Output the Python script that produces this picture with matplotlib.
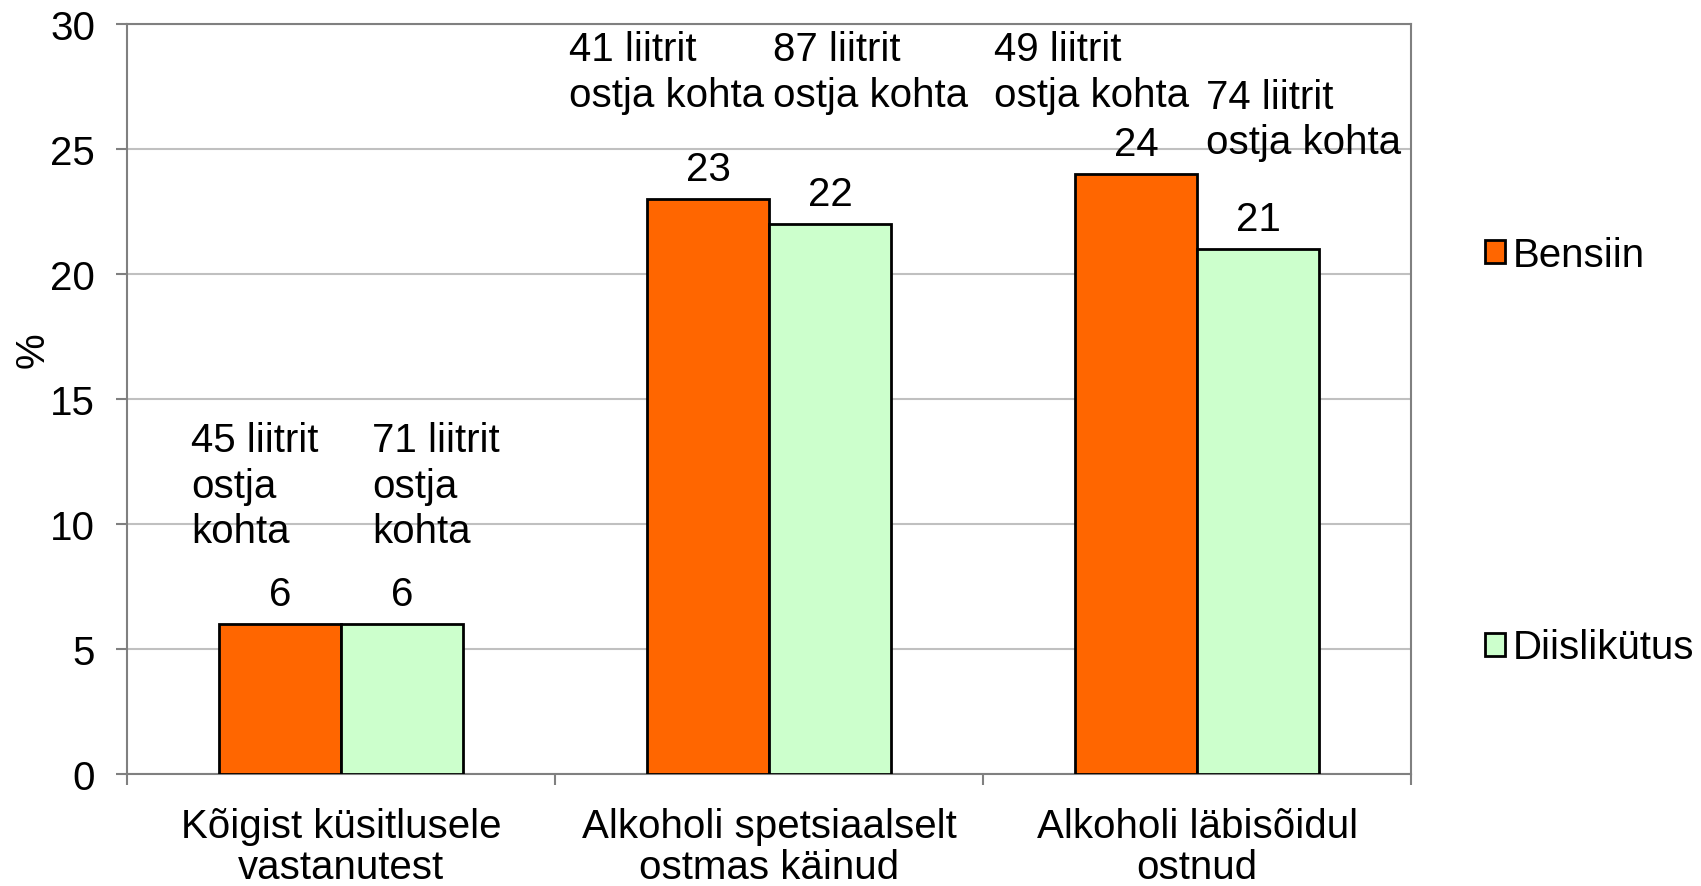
import matplotlib.pyplot as plt
from matplotlib.patches import Patch
import numpy as np

plt.rcParams['font.family'] = ['Liberation Sans', 'DejaVu Sans']

kategooriad = ['Kõigist küsitlusele\nvastanutest',
               'Alkoholi spetsiaalselt\nostmas käinud',
               'Alkoholi läbisõidul\nostnud']
bensiin = [6, 23, 24]
diisel = [6, 22, 21]
bensiin_liitrid = ['45 liitrit\nostja\nkohta', '41 liitrit\nostja kohta', '49 liitrit\nostja kohta']
diisel_liitrid = ['71 liitrit\nostja\nkohta', '87 liitrit\nostja kohta', '74 liitrit\nostja kohta']
y_ticks = [0, 5, 10, 15, 20, 25, 30]

# kus liitrite tekstid asuvad (x vasak serv, y ülemine serv, andmeühikutes)
bensiin_tekst_xy = [(-0.35, 14.1), (0.533, 29.75), (1.525, 29.75)]
diisel_tekst_xy = [(0.073, 14.1), (1.01, 29.75), (2.02, 27.85)]

oranz = '#FF6600'
roheline = '#CCFFCC'
hall = '#808080'
fs = 29

fig = plt.figure(figsize=(17.01, 8.87), dpi=100)
ax = fig.add_axes([0.0747, 0.1263, 0.8296 - 0.0747, 0.9718 - 0.1263])

x = np.arange(len(kategooriad))
laius = 0.2857
b1 = ax.bar(x - laius / 2, bensiin, laius, color=oranz, edgecolor='black', linewidth=2, zorder=3)
b2 = ax.bar(x + laius / 2, diisel, laius, color=roheline, edgecolor='black', linewidth=2, zorder=3)

# väärtused tulpade kohal
for tulbad, vaartused in ((b1, bensiin), (b2, diisel)):
    for t, v in zip(tulbad, vaartused):
        ax.annotate(str(v), (t.get_x() + t.get_width() / 2, v), xytext=(0, 14),
                    textcoords='offset points', ha='center', va='baseline', fontsize=fs)

# liitrid ostja kohta
for tekstid, kohad in ((bensiin_liitrid, bensiin_tekst_xy), (diisel_liitrid, diisel_tekst_xy)):
    for s, (tx, ty) in zip(tekstid, kohad):
        ax.text(tx, ty, s, ha='left', va='top', fontsize=fs, linespacing=1.25)

ax.set_xlim(-0.5, 2.5)
ax.set_ylim(0, 30)
ax.set_yticks(y_ticks)
ax.tick_params(axis='y', labelsize=fs, length=8, width=1.5, color=hall, pad=15)
ax.set_xticks(x)
ax.set_xticklabels(kategooriad, fontsize=fs, linespacing=1.1)
ax.tick_params(axis='x', length=0, pad=24)
ax.set_xticks([-0.5, 0.5, 1.5, 2.5], minor=True)
ax.tick_params(axis='x', which='minor', length=8, width=1.5, color=hall)
ax.grid(axis='y', color='#C0C0C0', linewidth=1.5, zorder=0)
ax.set_axisbelow(True)
for sp in ax.spines.values():
    sp.set_color(hall)
    sp.set_linewidth(1.5)

ax.set_ylabel('%', fontsize=fs, labelpad=10)
ax.yaxis.set_label_coords(-0.059, 0.567)

kasitsejad = [Patch(facecolor=oranz, edgecolor='black', linewidth=2),
              Patch(facecolor=roheline, edgecolor='black', linewidth=2)]
fig.legend(kasitsejad, ['Bensiin', 'Diislikütus'], loc='upper left',
           bbox_to_anchor=(0.8635, 0.751), frameon=False, fontsize=fs,
           handlelength=0.5, handleheight=0.5, handletextpad=0.2,
           labelspacing=8.8, borderaxespad=0)

fig.savefig('out.png', dpi=100)
